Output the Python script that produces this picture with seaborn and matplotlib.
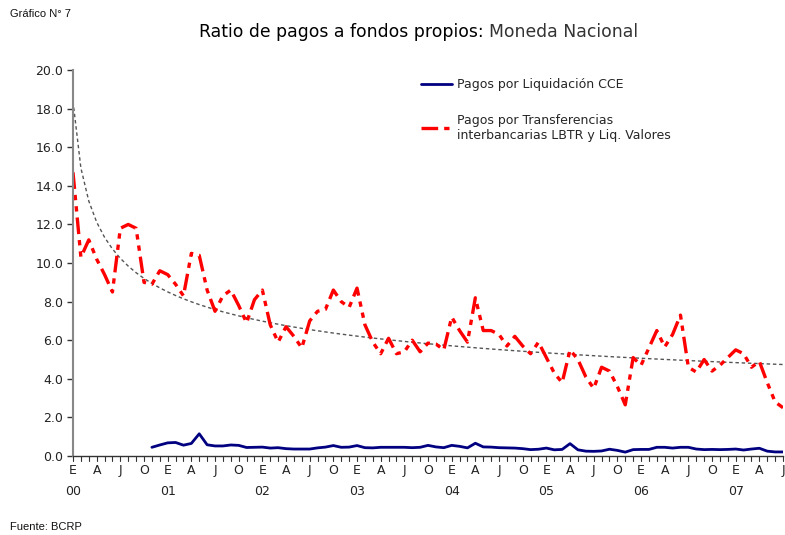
import numpy as np
import pandas as pd
import matplotlib
matplotlib.use("Agg")
import matplotlib.pyplot as plt
import seaborn as sns
from matplotlib.lines import Line2D

# --- DATA (monthly, Jan 2000 = month 0) ---
MONTH_LETTERS = ['E', 'A', 'J', 'O']
YEARS = ['00', '01', '02', '03', '04', '05', '06', '07']

lbtr = [14.7, 10.3, 11.2, 10.2, 9.4, 8.5, 11.8, 12.0, 11.8, 9.0,
        8.9, 9.6, 9.4, 8.9, 8.3, 10.5, 10.4, 8.6, 7.5, 8.3,
        8.6, 7.8, 6.9, 8.1, 8.6, 6.8, 5.9, 6.7, 6.2, 5.6,
        7.0, 7.5, 7.6, 8.6, 8.0, 7.7, 8.7, 6.8, 5.9, 5.3,
        6.1, 5.3, 5.4, 6.0, 5.4, 5.85, 5.8, 5.5, 7.2, 6.5,
        5.9, 8.2, 6.5, 6.5, 6.3, 5.7, 6.2, 5.7, 5.3, 5.9,
        5.1, 4.3, 3.8, 5.5, 5.0, 4.1, 3.5, 4.6, 4.4, 3.6,
        2.65, 5.1, 4.7, 5.6, 6.5, 5.65, 6.3, 7.3, 4.6, 4.35,
        5.0, 4.4, 4.7, 5.1, 5.5, 5.3, 4.6, 4.9, 3.8, 2.8,
        2.5]

cce_start = 10  # Nov 2000
cce = [0.45, 0.57, 0.68, 0.70, 0.56, 0.65, 1.15, 0.58, 0.52, 0.52,
       0.57, 0.55, 0.44, 0.45, 0.46, 0.41, 0.43, 0.38, 0.36, 0.36,
       0.36, 0.42, 0.46, 0.54, 0.45, 0.46, 0.54, 0.43, 0.42, 0.45,
       0.45, 0.45, 0.45, 0.43, 0.45, 0.55, 0.47, 0.43, 0.55, 0.50,
       0.42, 0.66, 0.47, 0.46, 0.43, 0.42, 0.41, 0.38, 0.33, 0.35,
       0.41, 0.32, 0.34, 0.64, 0.32, 0.25, 0.24, 0.26, 0.35, 0.29,
       0.20, 0.33, 0.34, 0.34, 0.45, 0.45, 0.41, 0.45, 0.45, 0.36,
       0.33, 0.34, 0.33, 0.34, 0.36, 0.31, 0.36, 0.40, 0.25, 0.21,
       0.21]

df_lbtr = pd.DataFrame({'mes': np.arange(len(lbtr)), 'ratio': lbtr})
df_cce = pd.DataFrame({'mes': np.arange(cce_start, cce_start + len(cce)), 'ratio': cce})

# power trendline fitted on the LBTR series (like Excel's "potencial")
t = df_lbtr['mes'].values + 1
b, log_a = np.polyfit(np.log(t), np.log(df_lbtr['ratio'].values), 1)
df_lbtr['tendencia'] = np.exp(log_a) * t ** b

# --- PLOT ---
sns.set_style('white')
plt.rcParams['font.family'] = ['DejaVu Sans']

fig = plt.figure(figsize=(7.85, 5.35), dpi=100)
ax = fig.add_axes([0.093, 0.1477, 0.9045, 0.7213])

red_dash = (0, (5, 1.8, 1.6, 1.8, 1.6, 1.8))
sns.lineplot(data=df_lbtr, x='mes', y='tendencia', ax=ax, color='#555555',
             linewidth=1.0, linestyle=(0, (2.5, 2)))
sns.lineplot(data=df_cce, x='mes', y='ratio', ax=ax, color='#000080', linewidth=2.0)
sns.lineplot(data=df_lbtr, x='mes', y='ratio', ax=ax, color='#ff0000',
             linewidth=2.4, linestyle=red_dash)

ax.set_xlim(0, 90)
ax.set_ylim(0, 20)
ax.set_xlabel('')
ax.set_ylabel('')

ax.set_yticks(np.arange(0, 20.1, 2))
ax.set_yticklabels([f'{v:.1f}' for v in np.arange(0, 20.1, 2)], fontsize=9, color='#222222')

major = np.arange(0, 91, 3)
labels = []
for m in major:
    lab = MONTH_LETTERS[(m % 12) // 3]
    if m % 12 == 0:
        lab += '\n' + YEARS[m // 12]
    labels.append(lab)
ax.set_xticks(major)
ax.set_xticklabels(labels, fontsize=9, color='#222222', linespacing=1.75, va='top')
ax.tick_params(axis='x', which='both', direction='in', length=0, pad=6)
ax.tick_params(axis='y', direction='out', length=4, width=1, color='#333333', pad=3, left=True)

# small monthly ticks hanging below the axis
for m in range(0, 91):
    ax.plot([m, m], [0, -0.25], color='#333333', linewidth=0.8, clip_on=False)

for side in ['top', 'right']:
    ax.spines[side].set_visible(False)
ax.spines['left'].set_color('#888888')
ax.spines['left'].set_linewidth(1.5)
ax.spines['bottom'].set_color('#333333')
ax.spines['bottom'].set_linewidth(1.0)

handles = [Line2D([], [], color='#000080', linewidth=2.0),
           Line2D([], [], color='#ff0000', linewidth=2.4, linestyle=red_dash)]
fig.legend(handles, ['Pagos por Liquidación CCE',
                     'Pagos por Transferencias\ninterbancarias LBTR y Liq. Valores'],
           loc='upper left', bbox_to_anchor=(0.522, 0.875), frameon=False,
           fontsize=9, handlelength=2.5, handletextpad=0.35, labelspacing=1.8)

# title in two parts: dark lead text, then lighter subject
t1 = fig.text(0.254, 0.94, 'Ratio de pagos a fondos propios:', fontsize=12.4,
              color='#000000', va='center')
fig.canvas.draw()
bb = t1.get_window_extent()
fig.text((bb.x1 + 5) / fig.bbox.width, 0.94, 'Moneda Nacional', fontsize=12.4,
         color='#333333', va='center')
fig.text(0.013, 0.973, 'Gráfico N° 7', fontsize=8, color='#111111',
         family=['Liberation Sans', 'DejaVu Sans'], va='center')
fig.text(0.013, 0.015, 'Fuente: BCRP', fontsize=8, color='#111111',
         family=['Liberation Sans', 'DejaVu Sans'], va='center')

fig.savefig('out.png', dpi=100)
